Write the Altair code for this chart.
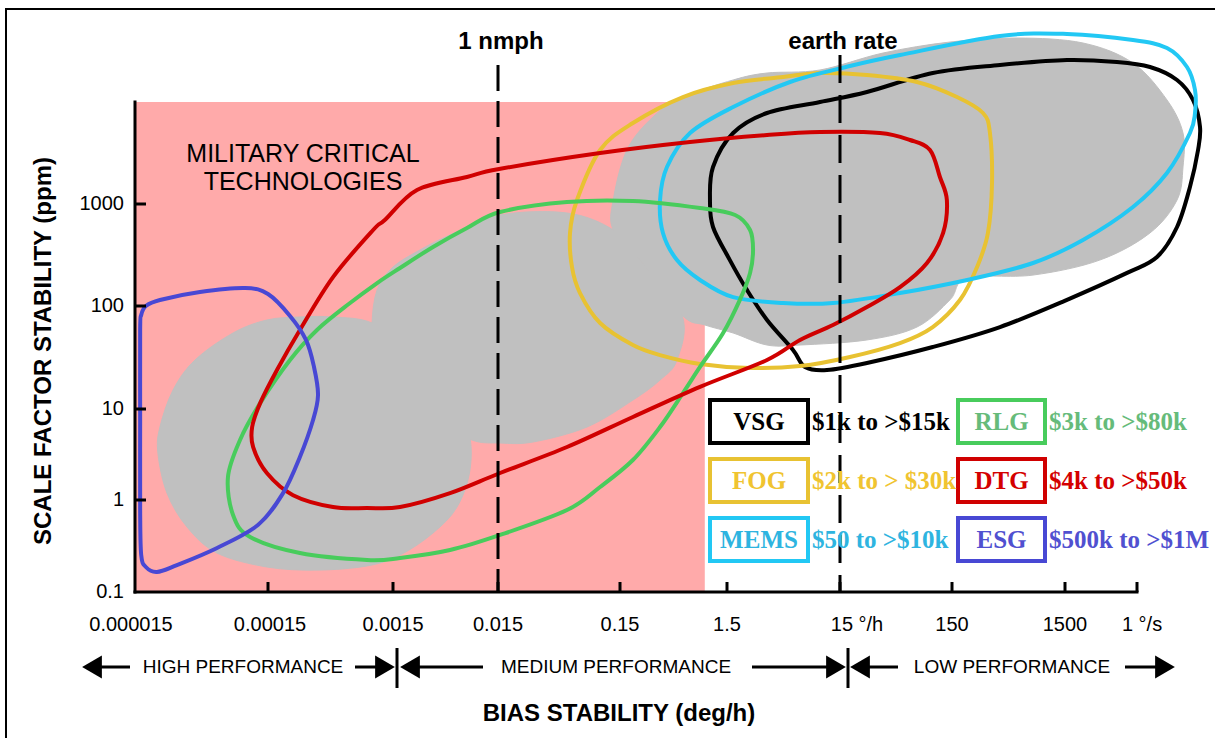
import altair as alt
import pandas as pd

# ---------------------------------------------------------------------------
# Axes as printed: bias stability (deg/h) and scale factor stability (ppm)
# ---------------------------------------------------------------------------
BIAS_TICKS = [0.000015, 0.00015, 0.0015, 0.015, 0.15, 1.5, 15, 150, 1500, 3600]
BIAS_TICK_LABELS = ["0.000015", "0.00015", "0.0015", "0.015", "0.15", "1.5",
                    "15 °/h", "150", "1500", "1 °/s"]
SF_TICKS = [0.1, 1, 10, 100, 1000]
SF_TICK_LABELS = ["0.1", "1", "10", "100", "1000"]
X_TITLE = "BIAS STABILITY (deg/h)"
Y_TITLE = "SCALE FACTOR STABILITY (ppm)"

# reference lines
NMPH_BIAS = 0.015        # 1 nautical mile per hour
EARTH_RATE_BIAS = 15     # earth rotation rate
REF_LABELS = ["1 nmph", "earth rate"]

# military critical technologies zone
MCT_BIAS = [0.000015, 0.93]
MCT_SF = [0.1, 10000]
MCT_LABEL = "MILITARY CRITICAL\nTECHNOLOGIES"

# ---------------------------------------------------------------------------
# Gyro technology envelopes (closed outlines)
# ---------------------------------------------------------------------------
vsg_bias = [1.04, 1.11, 1.70, 3.39, 9.98, 26.1, 101, 399, 1537, 2820, 4690, 8140,
            11270, 13000, 12490, 10590, 8140, 5410, 3190, 1537, 399, 101, 26.1,
            11.5, 7.35, 5.76, 3.39, 2.25, 1.59, 1.11]
vsg_sf = [1094, 2305, 4966, 7800, 10000, 12530, 19240, 23070, 25820, 24660, 22030,
          16440, 10470, 5690, 3383, 1468, 595, 302, 211, 115, 62.5, 40.0, 28.0,
          23.9, 25.6, 37.4, 73.1, 144, 282, 595]

fog_bias = [0.0584, 0.0666, 0.103, 0.198, 0.582, 1.70, 4.70, 9.98, 26.1, 73.0, 166,
            282, 325, 339, 312, 250, 177, 101, 51.5, 18.4, 6.64, 2.40, 0.839, 0.355,
            0.198, 0.103, 0.0705, 0.0606]
fog_sf = [520, 1094, 3383, 6223, 11190, 15350, 17580, 19240, 18400, 15710, 11190,
          7800, 4966, 1607, 520, 241, 115, 62.5, 43.7, 32.0, 26.1, 25.0, 27.4, 33.4,
          41.8, 68.4, 134, 241]

mems_bias = [0.355, 0.412, 0.677, 1.70, 5.42, 18.4, 51.5, 399, 1537, 3428, 6630,
             9970, 11740, 11740, 10590, 6630, 3428, 1867, 782, 204, 51.5, 13.0,
             4.70, 1.70, 0.839, 0.511, 0.378]
mems_sf = [1094, 2305, 4966, 8930, 15710, 22540, 28900, 44360, 46450, 40550, 33830,
           22030, 13110, 7800, 4966, 2014, 935, 444, 264, 180, 134, 107, 107, 122,
           180, 282, 520]

rlg_bias = [7.50e-5, 9.24e-5, 1.31e-4, 2.25e-4, 3.70e-4, 6.80e-4, 1.12e-3, 1.75e-3,
            3.61e-3, 7.60e-3, 0.0156, 0.0552, 0.198, 0.839, 1.77, 2.40, 2.55, 2.40,
            1.95, 1.38, 0.839, 0.582, 0.355, 0.198, 0.103, 0.0552, 0.0156, 5.24e-3,
            1.75e-3, 9.29e-4, 2.70e-4, 1.10e-4, 8.19e-5]
rlg_sf = [1.79, 4.56, 11.4, 29.9, 58.5, 107, 168, 236, 379, 582, 835, 1046, 1070,
          913, 780, 556, 354, 211, 115, 54.7, 25.6, 14.3, 6.34, 2.75, 1.39, 0.778,
          0.417, 0.286, 0.234, 0.223, 0.265, 0.396, 0.687]

dtg_bias = [1.14e-4, 1.31e-4, 1.77e-4, 2.70e-4, 4.97e-4, 1.04e-3, 1.29e-3, 2.54e-3,
            7.60e-3, 0.0153, 0.103, 0.677, 3.39, 9.98, 34.1, 63.3, 95.4, 117, 135,
            125, 89.7, 51.5, 26.1, 13.0, 6.64, 3.39, 0.839, 0.198, 0.0552, 0.0156,
            5.24e-3, 1.75e-3, 9.29e-4, 4.97e-4, 2.38e-4, 1.47e-4, 1.16e-4]
dtg_sf = [6.34, 11.4, 23.9, 58.5, 192, 556, 697, 1371, 1840, 2203, 3162, 4055, 4748,
          5082, 4966, 4240, 3383, 1840, 1094, 520, 264, 153, 97.8, 65.4, 46.8, 29.9,
          16.4, 8.17, 3.82, 1.98, 1.19, 0.839, 0.819, 0.839, 1.13, 1.98, 3.82]

esg_bias = [1.64e-5, 1.64e-5, 1.64e-5, 1.67e-5, 1.81e-5, 2.19e-5, 3.10e-5, 6.21e-5,
            1.26e-4, 1.98e-4, 2.70e-4, 3.44e-4, 3.77e-4, 3.50e-4, 3.02e-4, 2.25e-4,
            1.50e-4, 1.01e-4, 4.62e-5, 2.31e-5, 1.81e-5, 1.67e-5]
esg_sf = [58.5, 7.57, 0.778, 0.252, 0.187, 0.165, 0.196, 0.301, 0.535, 1.19, 2.97,
          7.57, 13.7, 25.6, 46.8, 80.0, 131, 150, 137, 114.6, 100, 81.8]

# grey background clusters
cluster_low_bias = [2.23e-5, 2.31e-5, 2.90e-5, 4.24e-5, 8.19e-5, 1.47e-4, 2.70e-4,
                    4.97e-4, 1.02e-3, 2.18e-3, 4.69e-3, 7.77e-3, 8.11e-3, 6.11e-3,
                    3.61e-3, 1.75e-3, 9.29e-4, 3.70e-4, 1.47e-4, 6.21e-5, 3.69e-5,
                    2.61e-5]
cluster_low_sf = [3.28, 6.34, 15.3, 29.9, 54.7, 73.1, 78.2, 78.2, 68.4, 37.4, 15.3,
                  5.88, 2.14, 0.839, 0.438, 0.252, 0.192, 0.173, 0.187, 0.265, 0.509,
                  1.19]
cluster_mid_bias = [1.02e-3, 1.12e-3, 1.5e-3, 2.71e-3, 5.24e-3, 0.0156, 0.0552, 0.132,
                    0.231, 0.569, 0.511, 0.355, 0.198, 0.0805, 0.0291, 0.0156,
                    8.48e-3, 4.21e-3, 1.75e-3, 1.08e-3]
cluster_mid_sf = [68.4, 144, 241, 354, 497, 780, 816, 556, 282, 81.8, 29.9, 19.1,
                  12.2, 6.34, 4.34, 4.23, 4.56, 7.57, 19.1, 41.8]
cluster_high_bias = [0.132, 0.132, 0.174, 0.305, 0.582, 1.70, 3.39, 9.98, 36.3, 144,
                     564, 1867, 3428, 6630, 9190, 9190, 8140, 4690, 2290, 782, 204,
                     144, 73.0, 26.1, 6.64, 3.39, 1.70, 0.933, 0.569, 0.231]
cluster_high_sf = [556, 1094, 3383, 7130, 11190, 16440, 19240, 20590, 30200, 38730,
                   42400, 37870, 24120, 10470, 4966, 2305, 1094, 520, 282, 201, 188,
                   115, 62.5, 46.8, 41.8, 41.8, 54.7, 65.4, 81.8, 282]

# legend: technology and price range
GYROS = ["VSG", "RLG", "FOG", "DTG", "MEMS", "ESG"]
COSTS = ["$1k to >$15k", "$3k to >$80k", "$2k to > $30k", "$4k to >$50k",
         "$50 to >$10k", "$500k to >$1M"]

PERFORMANCE = ["HIGH PERFORMANCE", "MEDIUM PERFORMANCE", "LOW PERFORMANCE"]

# ---------------------------------------------------------------------------
# styles
# ---------------------------------------------------------------------------
LINE_COLORS = {"VSG": "#000000", "RLG": "#48CC5C", "FOG": "#E8C232", "DTG": "#D00000",
               "MEMS": "#22C8F4", "ESG": "#4848D4"}
TEXT_COLORS = {"VSG": "#000000", "RLG": "#66BB7A", "FOG": "#F0C430", "DTG": "#D40000",
               "MEMS": "#2EB4E0", "ESG": "#5050D0"}
PINK = "#FFAAAA"
GREY = "#C0C0C0"
SANS = "Liberation Sans"
SERIF = "Liberation Serif"

W, H = 1075, 572

# hand-drawn log axes: every printed decade has its own width
x_scale = alt.Scale(type="log", nice=False, domain=BIAS_TICKS + [36000],
                    range=[0, 133, 258, 363, 485, 592, 705, 817, 930, 1002, 1115])
y_scale = alt.Scale(type="log", nice=False, domain=SF_TICKS + [100000],
                    range=[572, 480, 389, 286, 184, -20])


def bx(field, **kw):
    return alt.X(field, scale=x_scale, axis=None, **kw)


def sy(field, **kw):
    return alt.Y(field, scale=y_scale, axis=None, **kw)


def outline(name, bias, sf):
    return pd.DataFrame({"name": name, "bias": bias, "sf": sf, "i": range(len(bias))})


curve_df = pd.concat([
    outline("VSG", vsg_bias, vsg_sf), outline("FOG", fog_bias, fog_sf),
    outline("MEMS", mems_bias, mems_sf), outline("RLG", rlg_bias, rlg_sf),
    outline("DTG", dtg_bias, dtg_sf), outline("ESG", esg_bias, esg_sf),
], ignore_index=True)

cluster_df = pd.concat([
    outline("low", cluster_low_bias, cluster_low_sf),
    outline("mid", cluster_mid_bias, cluster_mid_sf),
    outline("high", cluster_high_bias, cluster_high_sf),
], ignore_index=True)

one = pd.DataFrame({"k": [0]})

frame = alt.Chart(one).mark_rect(filled=False, color="black", strokeWidth=2).encode(
    x=alt.value(-129), x2=alt.value(1100), y=alt.value(-11), y2=alt.value(760))

mct_df = pd.DataFrame({"b0": [MCT_BIAS[0]], "b1": [MCT_BIAS[1]],
                       "s0": [MCT_SF[0]], "s1": [MCT_SF[1]]})
mct = alt.Chart(mct_df).mark_rect(color=PINK).encode(
    x=bx("b0:Q"), x2="b1:Q", y=sy("s0:Q"), y2="s1:Q")

clusters = alt.Chart(cluster_df).mark_line(
    interpolate="cardinal-closed", fill=GREY, stroke=GREY, strokeWidth=1).encode(
    x=bx("bias:Q"), y=sy("sf:Q"), detail="name:N", order="i:Q")

mct_text = alt.Chart(pd.DataFrame({"t": [MCT_LABEL]})).mark_text(
    font=SANS, fontSize=25, color="black", align="center", baseline="middle",
    lineBreak="\n", lineHeight=28).encode(
    x=alt.value(168), y=alt.value(134), text="t:N")

curves = alt.Chart(curve_df).mark_line(interpolate="cardinal-closed", strokeWidth=4).encode(
    x=bx("bias:Q"), y=sy("sf:Q"),
    color=alt.Color("name:N", scale=alt.Scale(domain=GYROS,
                    range=[LINE_COLORS[g] for g in GYROS]), legend=None),
    detail="name:N", order="i:Q")

nmph_line = alt.Chart(one).mark_rule(color="black", strokeWidth=3, strokeDash=[26, 10]).encode(
    x=alt.X(datum=NMPH_BIAS, scale=x_scale, axis=None), y=alt.value(45), y2=alt.value(H))
earth_line = alt.Chart(one).mark_rule(color="black", strokeWidth=3, strokeDash=[28, 12]).encode(
    x=alt.X(datum=EARTH_RATE_BIAS, scale=x_scale, axis=None), y=alt.value(35), y2=alt.value(H))

ref_df = pd.DataFrame({"bias": [NMPH_BIAS, EARTH_RATE_BIAS], "label": REF_LABELS})
ref_text = alt.Chart(ref_df).mark_text(
    font=SANS, fontSize=24, fontWeight="bold", color="black", align="center",
    baseline="middle", dx=3).encode(
    x=bx("bias:Q"), y=alt.value(22), text="label:N")

# axis lines and inward ticks
x_line = alt.Chart(one).mark_rule(color="black", strokeWidth=3, strokeCap="square").encode(
    x=alt.X(datum=BIAS_TICKS[0], scale=x_scale, axis=None),
    x2=alt.X2(datum=BIAS_TICKS[-1]),
    y=alt.Y(datum=SF_TICKS[0], scale=y_scale, axis=None))
y_line = alt.Chart(one).mark_rule(color="black", strokeWidth=3, strokeCap="square").encode(
    x=alt.X(datum=BIAS_TICKS[0], scale=x_scale, axis=None),
    y=alt.Y(datum=MCT_SF[0], scale=y_scale, axis=None),
    y2=alt.Y2(datum=MCT_SF[1]))
x_ticks = alt.Chart(pd.DataFrame({"bias": BIAS_TICKS[1:]})).mark_rule(
    color="black", strokeWidth=3).encode(
    x=bx("bias:Q"), y=alt.value(H), y2=alt.value(H - 10))
y_ticks = alt.Chart(pd.DataFrame({"sf": SF_TICKS[1:]})).mark_rule(
    color="black", strokeWidth=3).encode(
    y=sy("sf:Q"), x=alt.value(0), x2=alt.value(11))

# tick labels; a few printed labels sit slightly off their tick
label_nudge = {"0.000015": -4, "0.00015": 2, "15 °/h": 17, "1 °/s": 5}
x_lab_df = pd.DataFrame({"bias": BIAS_TICKS, "label": BIAS_TICK_LABELS})
x_lab_df["nudge"] = [label_nudge.get(t, 0) for t in BIAS_TICK_LABELS]
x_labels = alt.Chart(x_lab_df).transform_calculate(
    px="scale('x', datum.bias) + datum.nudge").mark_text(
    font=SANS, fontSize=20, color="black", align="center", baseline="middle").encode(
    x=alt.X("px:Q", scale=None), y=alt.value(H + 33), text="label:N")
y_labels = alt.Chart(pd.DataFrame({"sf": SF_TICKS, "label": SF_TICK_LABELS})).mark_text(
    font=SANS, fontSize=20, color="black", align="right", baseline="middle").encode(
    y=sy("sf:Q"), x=alt.value(-11), text="label:N")

x_title = alt.Chart(pd.DataFrame({"t": [X_TITLE]})).mark_text(
    font=SANS, fontSize=24, fontWeight="bold", color="black", align="center",
    baseline="middle").encode(x=alt.value(484), y=alt.value(H + 122), text="t:N")
y_title = alt.Chart(pd.DataFrame({"t": [Y_TITLE]})).mark_text(
    font=SANS, fontSize=24, fontWeight="bold", color="black", align="center",
    baseline="middle", angle=270).encode(x=alt.value(-91), y=alt.value(331), text="t:N")

# boxed legend, two columns by three rows
box_left = [575, 823]
box_width = [98, 87]
leg_rows = []
for k, (g, c) in enumerate(zip(GYROS, COSTS)):
    col, row = k % 2, k // 2
    top = 380 + 59 * row
    leg_rows.append({
        "name": g, "cost": c,
        "x0": box_left[col], "x1": box_left[col] + box_width[col],
        "y0": top, "y1": top + 43,
        "xc": box_left[col] + box_width[col] / 2, "yc": top + 22,
        "xt": box_left[col] + box_width[col] + 4,
        "line": LINE_COLORS[g], "text": TEXT_COLORS[g],
    })
leg_df = pd.DataFrame(leg_rows)

leg_box = alt.Chart(leg_df).mark_rect(fill="white", strokeWidth=4).encode(
    x=alt.X("x0:Q", scale=None), x2="x1:Q",
    y=alt.Y("y0:Q", scale=None), y2="y1:Q",
    stroke=alt.Stroke("line:N", scale=None))
leg_name = alt.Chart(leg_df).mark_text(
    font=SERIF, fontSize=25, fontWeight="bold", align="center", baseline="middle").encode(
    x=alt.X("xc:Q", scale=None), y=alt.Y("yc:Q", scale=None), text="name:N",
    color=alt.Color("text:N", scale=None))
leg_cost = alt.Chart(leg_df).mark_text(
    font=SERIF, fontSize=25, fontWeight="bold", align="left", baseline="middle").encode(
    x=alt.X("xt:Q", scale=None), y=alt.Y("yc:Q", scale=None), text="cost:N",
    color=alt.Color("text:N", scale=None))

# performance classes along the bottom
row_y = 647
perf_df = pd.DataFrame({"label": PERFORMANCE, "px": [108, 481, 877]})
perf_text = alt.Chart(perf_df).mark_text(
    font=SANS, fontSize=19, color="black", align="center", baseline="middle").encode(
    x=alt.X("px:Q", scale=None), y=alt.value(row_y), text="label:N")

shafts = pd.DataFrame({"a": [-45, 220, 275, 617, 725, 990],
                       "b": [-5, 250, 348, 700, 763, 1025]})
perf_shafts = alt.Chart(shafts).mark_rule(color="black", strokeWidth=3).encode(
    x=alt.X("a:Q", scale=None), x2="b:Q", y=alt.value(row_y))

dividers = pd.DataFrame({"a": [262, 713]})
perf_div = alt.Chart(dividers).mark_rule(color="black", strokeWidth=3).encode(
    x=alt.X("a:Q", scale=None), y=alt.value(row_y - 19), y2=alt.value(row_y + 21))

heads = pd.DataFrame({"a": [-43, 250, 275, 701, 725, 1030],
                      "shape": ["triangle-left", "triangle-right"] * 3})
perf_heads = alt.Chart(heads).mark_point(filled=True, color="black", size=520, opacity=1).encode(
    x=alt.X("a:Q", scale=None), y=alt.value(row_y),
    shape=alt.Shape("shape:N", scale=None))

chart = alt.layer(
    frame, mct, clusters, mct_text, curves, nmph_line, earth_line, ref_text,
    x_line, y_line, x_ticks, y_ticks, x_labels, y_labels, x_title, y_title,
    leg_box, leg_name, leg_cost,
    perf_shafts, perf_div, perf_heads, perf_text,
).properties(
    width=W, height=H,
    padding={"left": 135, "top": 20, "right": 5, "bottom": 146},
    autosize=alt.AutoSizeParams(type="none"),
).configure_view(strokeWidth=0)

chart.save("out.html", embed_options={"renderer": "svg", "actions": False})
